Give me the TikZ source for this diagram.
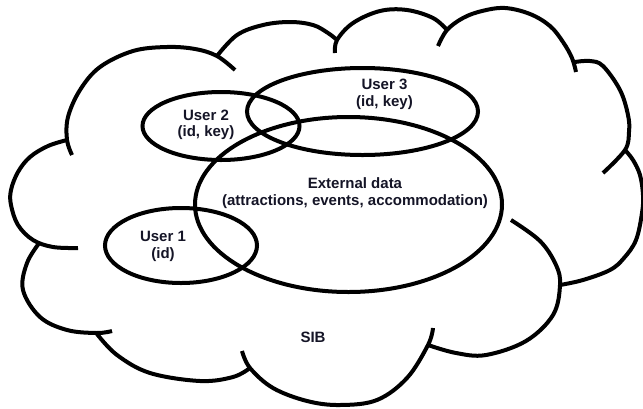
\documentclass[tikz,border=0pt]{standalone}
\usepackage{fontspec}
\setmainfont{Liberation Sans}
\usetikzlibrary{shapes.geometric}
\definecolor{ink}{RGB}{20,20,38}
\begin{document}
\begin{tikzpicture}[x=1pt,y=-1pt,
  outline/.style={line width=4pt, draw=black},
  setbox/.style={outline, ellipse, inner sep=0pt, outer sep=0pt},
  lbl/.style={font=\bfseries\fontsize{15}{16.5}\selectfont, text=ink, align=center, inner sep=0pt},
  bump/.style={outline, line join=round}]
\useasboundingbox (0,0) rectangle (643,408);
% cloud
\draw[bump] plot[smooth, tension=0.6] coordinates {(72,155) (67,140) (68,117) (80,90) (100,67) (133,51) (167,47) (195,49) (217,56) (235,70)};
\draw[bump] plot[smooth, tension=0.6] coordinates {(217,56) (237,35) (263,25) (290,22) (313,25) (328,33) (337,40)};
\draw[bump] plot[smooth, tension=0.6] coordinates {(335,53) (337,40) (353,23) (380,11) (407,10) (433,18) (447,30)};
\draw[bump] plot[smooth, tension=0.6] coordinates {(438,46) (447,30) (463,18) (482,11) (505,8) (530,14) (550,26) (563,42) (572,58) (576,72)};
\draw[bump] plot[smooth, tension=0.6] coordinates {(575,62) (590,61) (603,66) (620,90) (628,115) (629,132) (625,150) (603,173)};
\draw[bump] plot[smooth, tension=0.6] coordinates {(625,150) (633,160) (640,175) (643,195) (642,213) (636,240) (624,258) (610,270) (583,280) (560,285)};
\draw[bump] plot[smooth, tension=0.6] coordinates {(511,220) (540,241) (556,265) (560,285) (553,315) (526,341) (486,355) (456,353) (428,345)};
\draw[bump] plot[smooth, tension=0.6] coordinates {(242,351) (250,368) (273,388) (307,401) (340,405) (377,400) (407,378) (428,345) (433,328)};
\draw[bump] plot[smooth, tension=0.6] coordinates {(250,368) (233,377) (200,381) (150,373) (117,355) (97,334)};
\draw[bump] plot[smooth, tension=0.6] coordinates {(112,331) (97,333) (67,330) (40,317) (23,290) (27,263) (40,242)};
\draw[bump] plot[smooth, tension=0.6] coordinates {(78,248) (53,247) (33,240) (18,225) (11,205) (11,190) (18,172) (30,157) (48,146) (67,140)};
% sets
\node[setbox, minimum width=157pt, minimum height=68pt] (u2) at (221,126) {};
\node[setbox, minimum width=231pt, minimum height=87pt] (u3) at (362.5,111.5) {};
\node[setbox, minimum width=307pt, minimum height=175pt] (ext) at (348.5,204.5) {};
\node[setbox, minimum width=152pt, minimum height=75pt] (u1) at (181,245.5) {};
% labels
\node[lbl] (t2) at (206,125) {User 2\\(id, key)};
\node[lbl] (t3) at (384.5,94.5) {User 3\\(id, key)};
\node[lbl] (te) at (355,193) {External data\\(attractions, events, accommodation)};
\node[lbl] (t1) at (163,246.5) {User 1\\(id)};
\node[lbl] (sib) at (313,337) {SIB};
\end{tikzpicture}
\end{document}
